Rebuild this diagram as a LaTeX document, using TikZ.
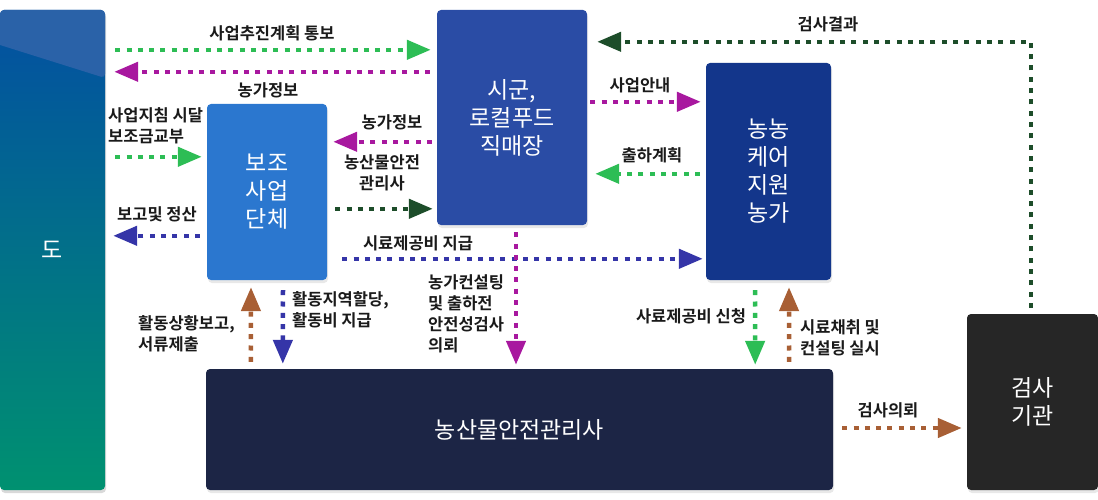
\documentclass[tikz,border=0pt]{standalone}
\usepackage{fontspec}
\setmainfont{Noto Sans CJK KR}[BoldFont={Noto Sans CJK KR Bold}]
\usetikzlibrary{arrows.meta,calc,shadows}
\definecolor{cgrn}{HTML}{2DBD55}
\definecolor{cmag}{HTML}{A8189F}
\definecolor{cblu}{HTML}{3535A8}
\definecolor{cdkg}{HTML}{1D4D2A}
\definecolor{cbrn}{HTML}{A85F35}
\definecolor{bbojo}{HTML}{2B77CF}
\definecolor{bsigun}{HTML}{2A4CA5}
\definecolor{bnong}{HTML}{13368B}
\definecolor{bmgr}{HTML}{1C2545}
\definecolor{binsp}{HTML}{262626}
\definecolor{dotop}{HTML}{034FA2}
\definecolor{domid}{HTML}{03708F}
\definecolor{dobot}{HTML}{009170}
\definecolor{dolight}{HTML}{2A62A8}
\definecolor{lbltxt}{HTML}{1A1A1A}
\tikzset{
  boxnode/.style={rounded corners=4pt, text=white, font=\fontsize{23}{28}\selectfont, align=center, inner sep=0pt,
    drop shadow={shadow xshift=1pt, shadow yshift=-3pt, opacity=0.18}},
  lbl/.style={text=lbltxt, font=\bfseries\fontsize{16.5}{21}\selectfont, inner sep=0pt},
  conn/.style={line width=4.5pt, dash pattern=on 5pt off 6.3pt, -{Triangle[length=24pt,width=19pt]}}
}
\begin{document}
\begin{tikzpicture}[x=1pt,y=-1pt]
\useasboundingbox (0,0) rectangle (1098,500);
% 도 box
\fill[black, opacity=0.15, rounded corners=4pt] (1,13) rectangle (106,493);
\shade[rounded corners=4pt, top color=dotop, middle color=domid, bottom color=dobot] (0,10) rectangle (105,490);
\fill[dolight, rounded corners=4pt] (0,45) -- (0,10) -- (105,10) -- (105,78) [sharp corners] -- cycle;
\node[minimum width=105pt, minimum height=480pt, inner sep=0pt, text=white, font=\fontsize{23}{28}\selectfont] (do) at (52.5,250) {도};
% boxes
\node[boxnode, fill=bbojo, minimum width=120pt, minimum height=176pt] (bojo) at (267,192) {보조\\사업\\단체};
\node[boxnode, fill=bsigun, minimum width=150pt, minimum height=215pt] (sigun) at (512,117.5) {시군,\\로컬푸드\\직매장};
\node[boxnode, fill=bnong, minimum width=125pt, minimum height=217pt] (nong) at (768.5,171.5) {농농\\케어\\지원\\농가};
\node[boxnode, fill=bmgr, minimum width=627pt, minimum height=121pt] (mgr) at (519.5,429.5) {농산물안전관리사};
\node[boxnode, fill=binsp, minimum width=131pt, minimum height=176pt] (insp) at (1032.5,402) {검사\\기관};
% connectors
\draw[conn, cgrn] ($(do.north east)+(10,40)$) -- ($(sigun.north west)+(-6,40)$);
\draw[conn, cmag] ($(sigun.north west)+(-7,62)$) -- ($(do.north east)+(9,62)$);
\draw[conn, cgrn] ($(do.north east)+(10,147)$) -- ($(bojo.north west)+(-5,53)$);
\draw[conn, cblu] ($(bojo.north west)+(-7,132)$) -- ($(do.north east)+(8,226)$);
\draw[conn, cmag] ($(sigun.north west)+(-5,132)$) -- ($(bojo.north east)+(6,38)$);
\draw[conn, cdkg] ($(bojo.north east)+(8,105)$) -- ($(sigun.north west)+(-4,199)$);
\draw[conn, cblu] ($(bojo.north east)+(15,155)$) -- ($(nong.north west)+(-3,196)$);
\draw[conn, cmag] ($(sigun.north east)+(3,92)$) -- ($(nong.north west)+(-5,39)$);
\draw[conn, cgrn] ($(nong.north west)+(-6,111)$) -- ($(sigun.north east)+(8,164)$);
\draw[conn, cdkg] ($(insp.north)+(-1.5,-6)$) |- ($(sigun.north east)+(10,32)$);
\draw[conn, cmag] ($(sigun.south)+(4,7)$) -- ($(mgr.north)+(-3.5,-4)$);
\draw[conn, cblu] ($(bojo.south)+(16,10)$) -- ($(mgr.north west)+(77,-5)$);
\draw[conn, cbrn] ($(mgr.north west)+(45,-7)$) -- ($(bojo.south)+(-16,7)$);
\draw[conn, cgrn] ($(nong.south)+(-13.5,10)$) -- ($(mgr.north east)+(-78,-4)$);
\draw[conn, cbrn] ($(mgr.north east)+(-44,-7)$) -- ($(nong.south)+(20.5,7)$);
\draw[conn, cbrn] ($(mgr.east)+(9,-1.5)$) -- ($(insp.west)+(-5,26)$);
% labels
\node[lbl] (l1) at (272,33) {사업추진계획 통보};
\node[lbl] (l2) at (268,90) {농가정보};
\node[lbl, align=left, anchor=west] (l3) at (108,125.5) {사업지침 시달\\보조금교부};
\node[lbl] (l4) at (157,214) {보고및 정산};
\node[lbl] (l5) at (392,122) {농가정보};
\node[lbl, align=center] (l6) at (382,172.5) {농산물안전\\관리사};
\node[lbl] (l7) at (418,243) {시료제공비 지급};
\node[lbl] (l8) at (640,85) {사업안내};
\node[lbl] (l9) at (652,155) {출하계획};
\node[lbl] (l10) at (828,24) {검사결과};
\node[lbl, align=left, anchor=west] (l11) at (428,313.5) {농가컨설팅\\및 출하전\\안전성검사\\의뢰};
\node[lbl, align=left, anchor=west] (l12) at (292,310) {활동지역할당,\\활동비 지급};
\node[lbl, align=left, anchor=west] (l13) at (138,333.5) {활동상황보고,\\서류제출};
\node[lbl] (l14) at (691,316) {사료제공비 신청};
\node[lbl, align=left, anchor=west] (l15) at (800,337.5) {시료채취 및\\컨설팅 실시};
\node[lbl] (l16) at (888,410) {검사의뢰};
\end{tikzpicture}
\end{document}
